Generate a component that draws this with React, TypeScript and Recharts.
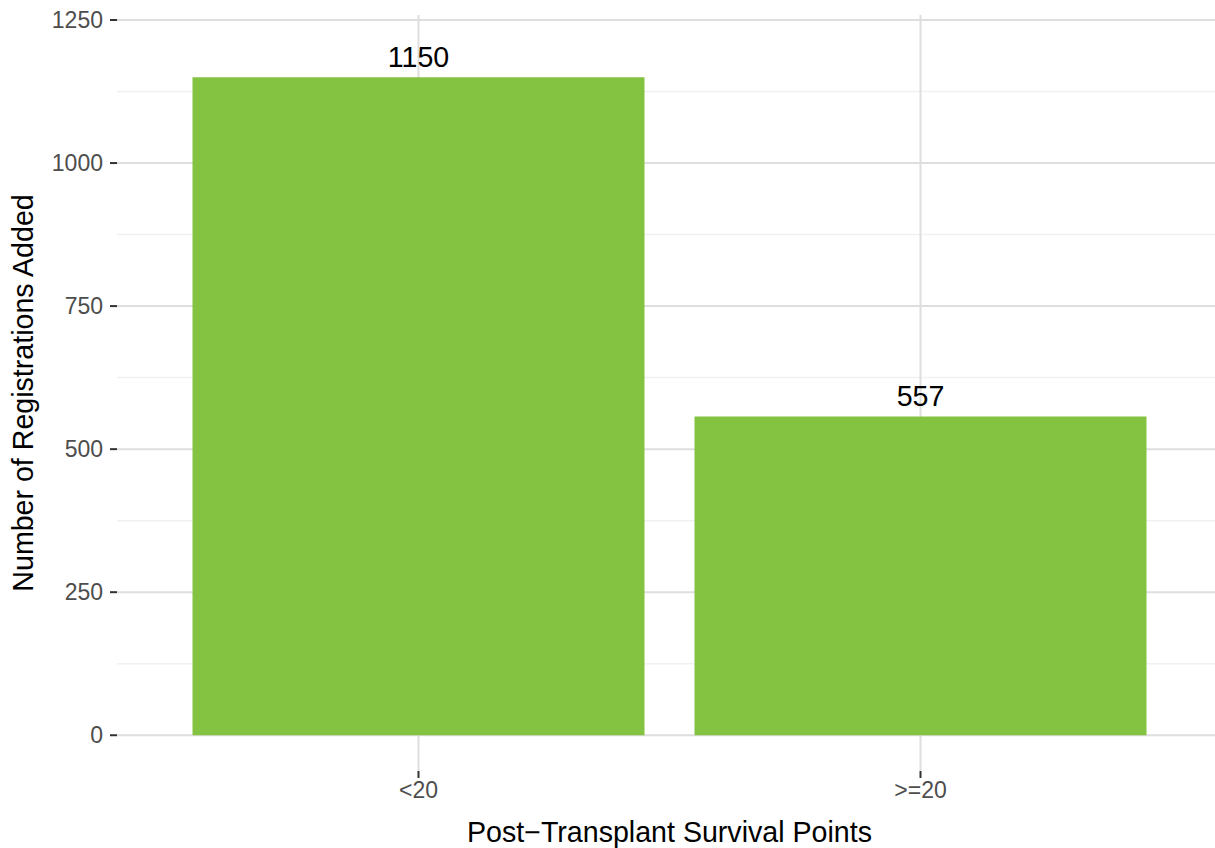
import React from 'react'
import {
  BarChart,
  Bar,
  XAxis,
  YAxis,
  CartesianGrid,
  LabelList,
} from 'recharts'

// data
const categories = ['<20', '>=20']
const registrations = [1150, 557]
const majorTicks = [0, 250, 500, 750, 1000, 1250]
const minorTicks = [125, 375, 625, 875, 1125]

const chartData = categories.map((name, i) => ({
  name,
  value: registrations[i],
}))

const FONT = '"Liberation Sans", Arial, Helvetica, sans-serif'
const GREEN = '#83C341'

export default function App() {
  return (
    <div
      style={{
        position: 'absolute',
        left: 0,
        top: 0,
        width: 1215,
        height: 848,
        overflow: 'hidden',
        background: '#fff',
        fontFamily: FONT,
      }}
    >
      <BarChart
        width={1230}
        height={848}
        data={chartData}
        margin={{ top: 15, right: 8, left: 0, bottom: 0 }}
      >
        {/* minor grid, from a hidden axis */}
        <CartesianGrid
          yAxisId="minor"
          vertical={false}
          syncWithTicks
          stroke="#F1F1F1"
          strokeWidth={1.5}
        />
        <CartesianGrid syncWithTicks stroke="#DEDEDE" strokeWidth={2} />
        <XAxis
          dataKey="name"
          height={77}
          padding={{ left: 50.5, right: 50.5 }}
          axisLine={false}
          tickSize={7}
          tickMargin={4}
          tickLine={{ stroke: '#333', strokeWidth: 2 }}
          tick={{ fill: '#4D4D4D', fontSize: 23, fontFamily: FONT }}
          label={{
            value: 'Post\u2212Transplant Survival Points',
            position: 'insideBottom',
            offset: 6,
            fill: '#000',
            fontSize: 28.6,
            fontFamily: FONT,
          }}
        />
        <YAxis
          width={117}
          domain={[-62.5, 1258.75]}
          ticks={majorTicks}
          allowDataOverflow
          axisLine={false}
          tickSize={7}
          tickMargin={7}
          tickLine={{ stroke: '#333', strokeWidth: 2 }}
          tick={{ fill: '#4D4D4D', fontSize: 23, fontFamily: FONT }}
          label={{
            value: 'Number of Registrations Added',
            angle: -90,
            position: 'insideLeft',
            offset: 22.5,
            fill: '#000',
            fontSize: 28.6,
            fontFamily: FONT,
            style: { textAnchor: 'middle' },
          }}
        />
        <YAxis
          yAxisId="minor"
          hide
          domain={[-62.5, 1258.75]}
          ticks={minorTicks}
          allowDataOverflow
        />
        <Bar dataKey="value" fill={GREEN} barSize={452} isAnimationActive={false}>
          <LabelList
            dataKey="value"
            position="top"
            offset={10.5}
            fill="#000"
            fontSize={28.6}
            fontFamily={FONT}
          />
        </Bar>
      </BarChart>
    </div>
  )
}
